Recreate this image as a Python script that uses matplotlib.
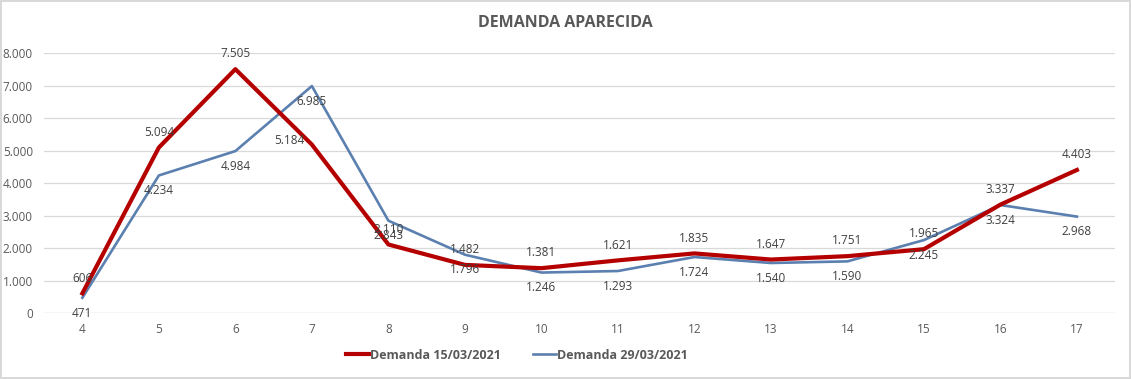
import numpy as np
import matplotlib.pyplot as plt

plt.rcParams['font.family'] = ['Open Sans', 'DejaVu Sans']

semanas = ["4", "5", "6", "7", "8", "9", "10", "11", "12", "13", "14", "15", "16", "17"]
demanda_15 = [606, 5094, 7505, 5184, 2110, 1482, 1381, 1621, 1835, 1647, 1751, 1965, 3337, 4403]
demanda_29 = [471, 4234, 4984, 6985, 2843, 1796, 1246, 1293, 1724, 1540, 1590, 2245, 3324, 2968]


def miles(v):
    return f"{v:,.0f}".replace(",", ".")


fig = plt.figure(figsize=(11.31, 3.79), dpi=100)
fig.patch.set_edgecolor('#d9d9d9')
fig.patch.set_linewidth(1.5)
ax = fig.add_axes([0.039, 0.174, 0.947, 0.686])

x = np.arange(len(semanas))
rojo = '#b50000'
azul = '#5b80b0'
ax.plot(x, demanda_15, color=rojo, lw=3.0, label='Demanda 15/03/2021', zorder=3)
ax.plot(x, demanda_29, color=azul, lw=1.9, label='Demanda 29/03/2021', zorder=2)

for i, v in enumerate(demanda_15):
    if i == 3:
        ax.annotate(miles(v), (i, v), xytext=(-16, 3), textcoords='offset points',
                    ha='center', va='center', fontsize=8.5, color='#404040')
    else:
        ax.annotate(miles(v), (i, v), xytext=(0, 11), textcoords='offset points',
                    ha='center', va='center', fontsize=8.5, color='#404040')
for i, v in enumerate(demanda_29):
    ax.annotate(miles(v), (i, v), xytext=(0, -11), textcoords='offset points',
                ha='center', va='center', fontsize=8.5, color='#404040')

ax.set_xlim(-0.5, len(semanas) - 0.5)
ax.set_ylim(0, 8000)
ax.set_xticks(x)
ax.set_xticklabels(semanas)
ax.set_yticks(np.arange(0, 8001, 1000))
ax.set_yticklabels([miles(v) for v in np.arange(0, 8001, 1000)])
ax.tick_params(length=0, labelsize=8.5, labelcolor='#595959')
ax.tick_params(axis='y', pad=8)
ax.tick_params(axis='x', pad=7)
ax.grid(axis='y', color='#d9d9d9', lw=0.9)
ax.set_axisbelow(True)
for s in ax.spines.values():
    s.set_visible(False)
ax.axhline(0, color='#d9d9d9', lw=0.9)

fig.text(0.5, 0.94, 'DEMANDA APARECIDA', ha='center', va='center',
         fontsize=11.5, fontweight='bold', color='#595959')

leg = fig.legend(loc='center', bbox_to_anchor=(0.457, 0.063), ncol=2, frameon=False,
                 handlelength=1.8, handletextpad=0.1, columnspacing=2.6,
                 prop={'weight': 'bold', 'size': 9})
for t in leg.get_texts():
    t.set_color('#595959')

fig.savefig('out.png', dpi=100)
